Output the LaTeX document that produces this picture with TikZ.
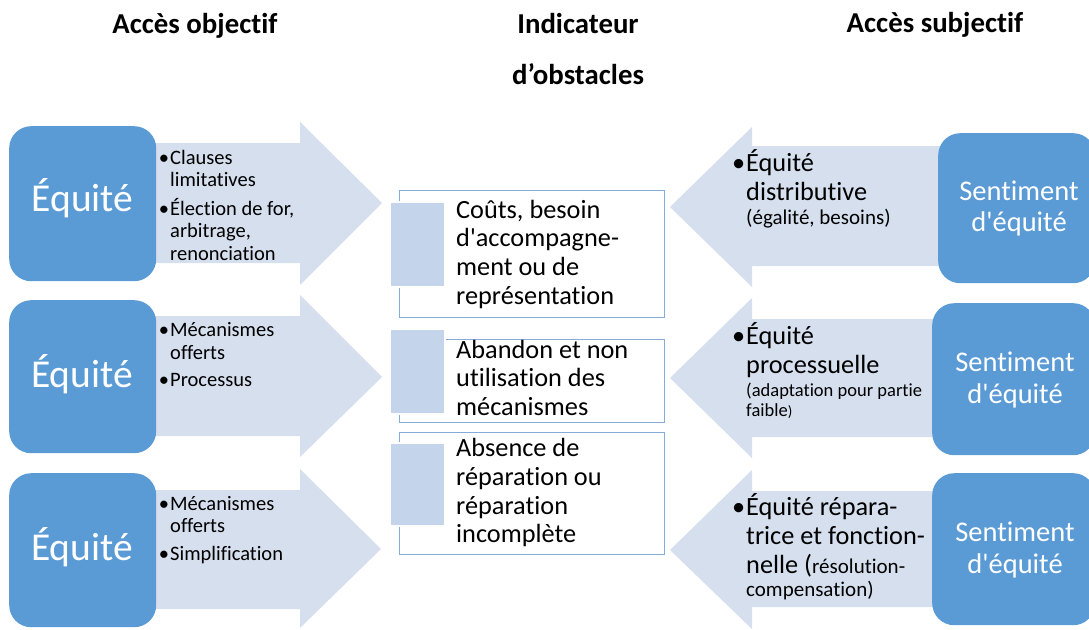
\documentclass[tikz,border=0pt]{standalone}
\usepackage{fontspec}
\setmainfont{Carlito}[Ligatures={TeXOff,NoCommon}]
\definecolor{boxblue}{HTML}{5B9BD5}
\definecolor{arrowfill}{HTML}{D5DFEE}
\definecolor{sqfill}{HTML}{C3D4EB}
\definecolor{rectline}{HTML}{85ABDA}
\newcommand\bul{\llap{\textbullet\kern1pt}}
\newcommand\smalltxt{\fontsize{21}{23}\selectfont}
\newcommand\tinytxt{\fontsize{18.5}{20}\selectfont}
\newcommand\natspace{\spaceskip=0pt\xspaceskip=0pt\relax}
\tikzset{
  eqbox/.style={fill=boxblue, draw=none, rounded corners=22pt, anchor=north west, inner sep=0pt},
  eqtxt/.style={anchor=base, inner sep=0pt, text=white, font=\fontsize{39.5}{41}\selectfont},
  sentxt/.style={anchor=base, inner sep=0pt, text=white, text width=160pt, align=center, font=\fontsize{28.5}{31.7}\selectfont},
  head/.style={anchor=base, inner sep=0pt, font=\fontsize{28.8}{30}\selectfont\bfseries},
  lefttxt/.style={anchor=base west, inner sep=0pt, text width=200pt, align=left, font=\fontsize{20.5}{22.5}\selectfont},
  righttxt/.style={anchor=base west, inner sep=0pt, text width=240pt, align=left, font=\fontsize{26.3}{29}\selectfont},
  obstxt/.style={anchor=base west, inner sep=0pt, text width=240pt, align=left, font=\fontsize{26.3}{28.7}\selectfont},
  obsbox/.style={draw=rectline, line width=1pt, anchor=north west, inner sep=0pt, minimum width=265pt},
  sqbox/.style={fill=sqfill, draw=white, line width=1.5pt, anchor=north west, inner sep=0pt, minimum width=55pt}
}
\begin{document}
\begin{tikzpicture}[x=1pt,y=-1pt]
  \useasboundingbox (0,0) rectangle (1089,629);
  \clip (0,0) rectangle (1089,629);

  %Headings
  \node[head] (hleft) at (195,33) {Accès objectif};
  \node[head] (hmid) at (578,33) {Indicateur};
  \node[head] (hmid2) at (578,84) {d’obstacles};
  \node[head] (hright) at (935,32.3) {Accès subjectif};

  %Arrows to the right
  \fill[arrowfill] (150,143) -- (300,143) -- (300,122) -- (382,203) -- (300,285) -- (300,263) -- (150,263) -- cycle;
  \fill[arrowfill] (150,316) -- (300,316) -- (300,295) -- (382,377) -- (300,457) -- (300,436) -- (150,436) -- cycle;
  \fill[arrowfill] (150,490) -- (300,490) -- (300,469) -- (381,549) -- (300,628) -- (300,609) -- (150,609) -- cycle;

  %Arrows to the left
  \fill[arrowfill] (945,146) -- (752,146) -- (752,127) -- (670,207) -- (752,287) -- (752,266) -- (945,266) -- cycle;
  \fill[arrowfill] (945,319) -- (752,319) -- (752,298) -- (670,378) -- (752,458) -- (752,437) -- (945,437) -- cycle;
  \fill[arrowfill] (945,491) -- (752,491) -- (752,470) -- (670,550) -- (752,629) -- (752,607) -- (945,607) -- cycle;

  %Blue boxes
  \node[eqbox, minimum width=147pt, minimum height=155pt] (eq1) at (9,126) {};
  \node[eqbox, minimum width=147pt, minimum height=153pt] (eq2) at (9,300) {};
  \node[eqbox, minimum width=147pt, minimum height=154pt] (eq3) at (9,473) {};
  \node[eqbox, minimum width=157pt, minimum height=150pt] (sen1) at (938,133) {};
  \node[eqbox, minimum width=163pt, minimum height=152pt] (sen2) at (932,303) {};
  \node[eqbox, minimum width=163pt, minimum height=152pt] (sen3) at (932,473) {};

  \node[eqtxt] (eqt1) at (82.5,211.7) {Équité};
  \node[eqtxt] (eqt2) at (82,387) {Équité};
  \node[eqtxt] (eqt3) at (82,560) {Équité};
  \node[sentxt] (sent1) at (1019,200) {Sentiment\\d'équité};
  \node[sentxt] (sent2) at (1015,371.7) {Sentiment\\d'équité};
  \node[sentxt] (sent3) at (1015,541.7) {Sentiment\\d'équité};

  %Obstacle boxes
  \node[obsbox, minimum height=127pt] (ob1) at (399,190) {};
  \node[obsbox, minimum height=83pt] (ob2) at (399,339) {};
  \node[obsbox, minimum height=122pt] (ob3) at (399,432) {};
  \node[sqbox, minimum height=85pt] (sq1) at (389,201) {};
  \node[sqbox, minimum height=85pt] (sq2) at (389,328) {};
  \node[sqbox, minimum height=83pt] (sq3) at (389,442) {};
  \node[obstxt] (obt1) at (456,218) {\natspace Coûts, besoin\\d'accompagne-\\ment ou de\\représentation};
  \node[obstxt] (obt2) at (456,358) {\natspace Abandon et non\\utilisation des\\mécanismes};
  \node[obstxt] (obt3) at (456,456.7) {\natspace Absence de\\réparation ou\\réparation\\incomplète};

  %Objective items
  \node[lefttxt] (it11) at (170,164) {\natspace\bul Clauses\\limitatives};
  \node[lefttxt] (it12) at (170,215) {\natspace\bul Élection de for,\\arbitrage,\\renonciation};
  \node[lefttxt] (it21) at (170,336.7) {\natspace\bul Mécanismes\\offerts};
  \node[lefttxt] (it22) at (170,386.7) {\natspace\bul Processus};
  \node[lefttxt] (it31) at (170,510) {\natspace\bul Mécanismes\\offerts};
  \node[lefttxt] (it32) at (170,560) {\natspace\bul Simplification};

  %Subjective items
  \node[righttxt] (rt1) at (746,171.7) {\natspace\bul Équité\\distributive\\[-5.7pt]{\smalltxt(égalité, besoins)}};
  \node[righttxt] (rt2) at (746,344) {\natspace\bul Équité\\processuelle\\[-5.7pt]{\tinytxt(adaptation pour partie}\\[-9pt]{\tinytxt faible{\fontsize{15}{15}\selectfont)}}};
  \node[righttxt] (rt3) at (746,515) {\natspace\bul Équité répara-\\trice et fonction-\\nelle ({\smalltxt résolution-}\\[-5.3pt]{\smalltxt compensation)}};
\end{tikzpicture}
\end{document}
